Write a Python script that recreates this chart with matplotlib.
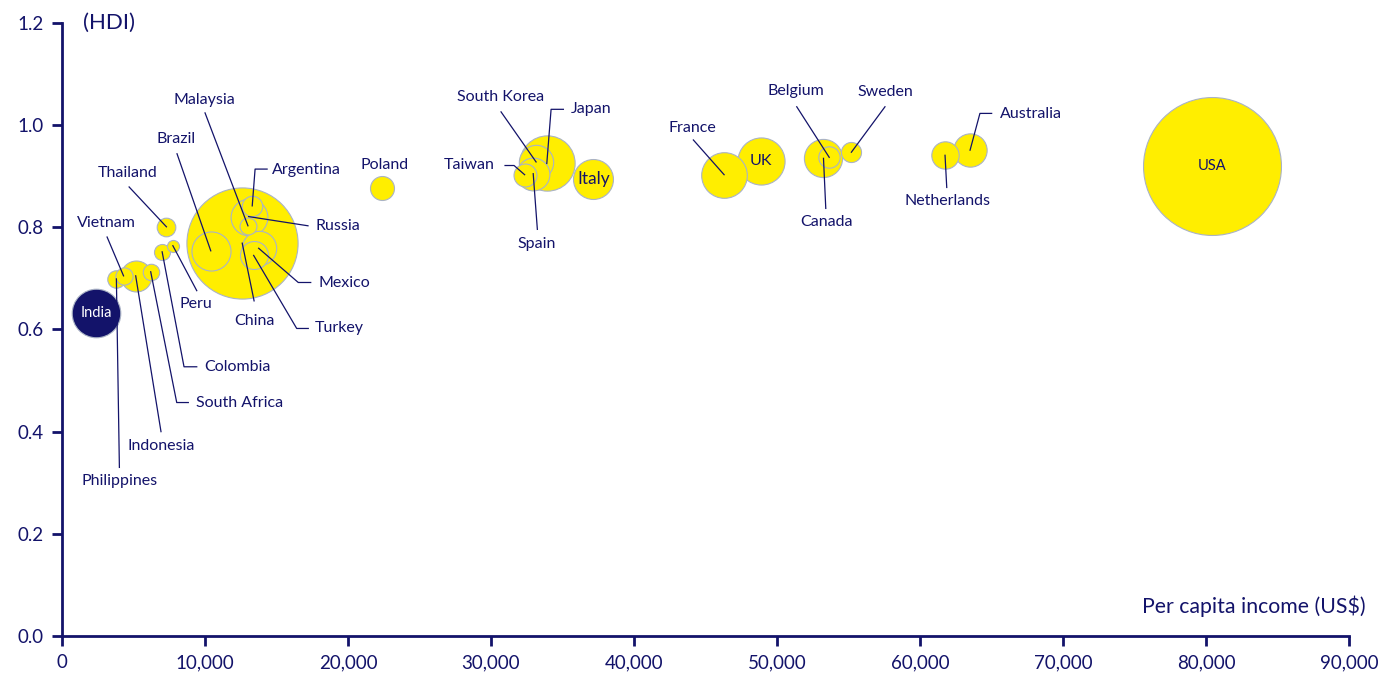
import matplotlib
matplotlib.use("Agg")
import matplotlib.pyplot as plt
from matplotlib.ticker import FuncFormatter

plt.rcParams['font.family'] = ['Lato', 'DejaVu Sans']

NAVY = '#13136a'
YELLOW = '#ffee00'
EDGE = '#aab3c6'

# country, per capita income (US$), HDI, GDP (US$ tn, sets bubble area)
countries = ['USA', 'China', 'Japan', 'India', 'UK', 'France', 'Italy', 'Canada',
             'Brazil', 'Russia', 'Mexico', 'South Korea', 'Australia', 'Spain',
             'Indonesia', 'Turkey', 'Netherlands', 'Poland', 'Taiwan', 'Belgium',
             'Argentina', 'Sweden', 'Thailand', 'Philippines', 'Vietnam',
             'Malaysia', 'South Africa', 'Colombia', 'Peru']
income = [80400, 12600, 33900, 2400, 48900, 46300, 37150, 53250,
          10400, 13050, 13750, 33150, 63500, 32950,
          5150, 13400, 61750, 22400, 32350, 53650,
          13300, 55200, 7300, 3800, 4300,
          13000, 6200, 7000, 7750]
hdi = [0.920, 0.769, 0.925, 0.633, 0.929, 0.903, 0.894, 0.935,
       0.754, 0.821, 0.759, 0.928, 0.951, 0.905,
       0.705, 0.745, 0.941, 0.876, 0.903, 0.937,
       0.842, 0.947, 0.801, 0.699, 0.705,
       0.803, 0.713, 0.752, 0.764]
gdp = [27.4, 17.8, 4.4, 3.4, 3.2, 3.0, 2.3, 2.1,
       2.2, 1.95, 1.7, 1.7, 1.6, 1.55,
       1.38, 1.13, 1.08, 0.83, 0.76, 0.66,
       0.6, 0.58, 0.5, 0.44, 0.43,
       0.41, 0.39, 0.37, 0.21]

# labels drawn inside the bubble: colour, font size
inside = {'USA': (NAVY, 10.5), 'UK': (NAVY, 11.5), 'Italy': (NAVY, 12.5),
          'India': ('white', 10.5)}

# label position, alignment, leader path (from bubble outwards)
labels = {
    'Malaysia': ((9930, 1.049), 'center', [(10000, 1.024)]),
    'Brazil': ((7970, 0.973), 'center', [(8040, 0.944)]),
    'Thailand': ((4620, 0.906), 'center', [(4690, 0.879)]),
    'Vietnam': ((3080, 0.808), 'center', [(3150, 0.781)]),
    'Argentina': ((14690, 0.912), 'left', [(13500, 0.914), (14340, 0.914)]),
    'Russia': ((17690, 0.803), 'left', [(17200, 0.803)]),
    'Mexico': ((17900, 0.691), 'left', [(16520, 0.692), (17390, 0.692)]),
    'Turkey': ((17690, 0.602), 'left', [(16410, 0.602), (17220, 0.602)]),
    'China': ((13430, 0.617), 'center', [(13430, 0.656)]),
    'Peru': ((9370, 0.650), 'center', [(9420, 0.676)]),
    'Colombia': ((9930, 0.527), 'left', [(8530, 0.527), (9420, 0.527)]),
    'South Africa': ((9370, 0.457), 'left', [(8020, 0.457), (8830, 0.457)]),
    'Indonesia': ((6920, 0.372), 'center', [(6920, 0.400)]),
    'Philippines': ((3990, 0.303), 'center', [(4010, 0.330)]),
    'Poland': ((22520, 0.922), 'center', []),
    'South Korea': ((30700, 1.055), 'center', [(30700, 1.026)]),
    'Japan': ((35600, 1.031), 'left', [(34200, 1.031), (35060, 1.031)]),
    'Taiwan': ((30280, 0.922), 'right', [(31610, 0.921), (30980, 0.921)]),
    'Spain': ((33220, 0.767), 'center', [(33240, 0.796)]),
    'France': ((44060, 0.994), 'center', [(44150, 0.971)]),
    'Belgium': ((51330, 1.067), 'center', [(51380, 1.036)]),
    'Sweden': ((57550, 1.065), 'center', [(57550, 1.036)]),
    'Canada': ((53430, 0.810), 'center', [(53410, 0.837)]),
    'Netherlands': ((61890, 0.852), 'center', [(61870, 0.878)]),
    'Australia': ((65590, 1.022), 'left', [(64190, 1.023), (65010, 1.023)]),
}

x_ticks = [0, 10000, 20000, 30000, 40000, 50000, 60000, 70000, 80000, 90000]
y_ticks = [0.0, 0.2, 0.4, 0.6, 0.8, 1.0, 1.2]


def main():
    fig = plt.figure(figsize=(13.85, 6.74), dpi=100)
    ax = fig.add_axes([0.0448, 0.0564, 0.9292, 0.9095])

    # big bubbles first so the smaller ones stay visible on top
    order = sorted(range(len(countries)), key=lambda i: -gdp[i])
    for z, i in enumerate(order):
        face = NAVY if countries[i] == 'India' else YELLOW
        ax.scatter(income[i], hdi[i], s=360 * gdp[i], color=face,
                   edgecolor=EDGE, linewidth=0.8, zorder=2 + z * 0.01)

    for name, (colour, size) in inside.items():
        i = countries.index(name)
        ax.text(income[i], hdi[i], name, color=colour, fontsize=size,
                ha='center', va='center', zorder=5)

    for name, (pos, ha, path) in labels.items():
        i = countries.index(name)
        if path:
            xs = [income[i]] + [p[0] for p in path]
            ys = [hdi[i]] + [p[1] for p in path]
            ax.plot(xs, ys, color=NAVY, linewidth=0.9, zorder=4)
        ax.text(pos[0], pos[1], name, color=NAVY, fontsize=11.5,
                ha=ha, va='center', zorder=5)

    ax.set_xlim(0, 90000)
    ax.set_ylim(0, 1.2)
    ax.set_xticks(x_ticks)
    ax.set_yticks(y_ticks)
    ax.xaxis.set_major_formatter(FuncFormatter(lambda v, p: f'{v:,.0f}'))
    ax.yaxis.set_major_formatter(FuncFormatter(lambda v, p: f'{v:.1f}'))

    for side in ('top', 'right'):
        ax.spines[side].set_visible(False)
    for side in ('left', 'bottom'):
        ax.spines[side].set_color(NAVY)
        ax.spines[side].set_linewidth(2)
    ax.tick_params(colors=NAVY, labelsize=13.5, length=7, width=2,
                   direction='out', pad=6)

    ax.text(0.016, 1.0, '(HDI)', transform=ax.transAxes, color=NAVY,
            fontsize=16, ha='left', va='center')
    ax.text(1.013, 0.049, 'Per capita income (US$)', transform=ax.transAxes,
            color=NAVY, fontsize=15.3, ha='right', va='center')

    fig.savefig('out.png', dpi=100)


if __name__ == '__main__':
    main()
